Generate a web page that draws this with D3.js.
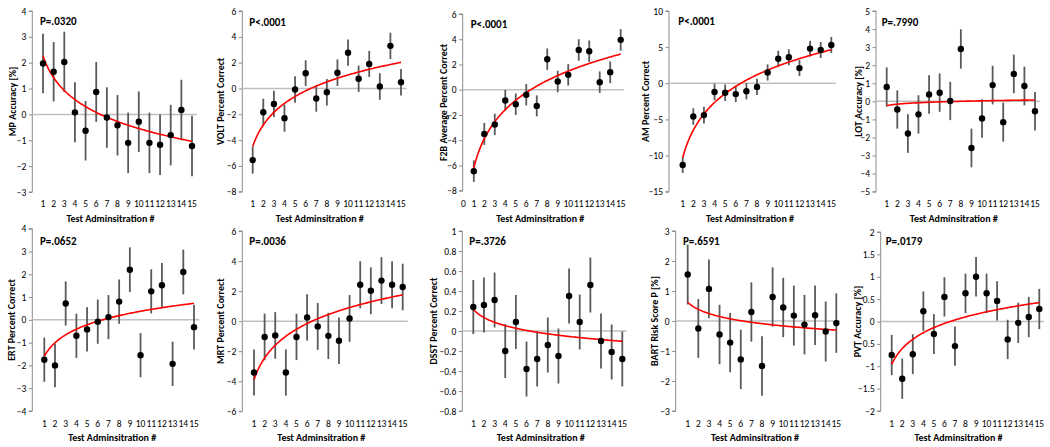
<!DOCTYPE html>
<html>
<head>
<meta charset="utf-8">
<script src="https://cdn.jsdelivr.net/npm/d3@7"></script>
<style>
  html, body { margin: 0; padding: 0; background: #fff; }
  svg { display: block; }
  text { font-family: Carlito, "Liberation Sans", Arial, sans-serif; fill: #000; }
</style>
</head>
<body>
<svg id="chart" width="1050" height="447"></svg>
<script>
// ---------------- DATA ----------------
const administrations = [1,2,3,4,5,6,7,8,9,10,11,12,13,14,15];
const xTitle = "Test Adminsitration #";

const mpMean   = [1.97, 1.65, 2.03, 0.08, -0.63, 0.87, -0.12, -0.42, -1.10, -0.28, -1.10, -1.17, -0.80, 0.17, -1.22];
const mpErr    = [1.15, 1.15, 1.17, 1.16, 1.15, 1.16, 1.17, 1.17, 1.17, 1.17, 1.17, 1.17, 1.17, 1.17, 1.17];
const voltMean = [-5.55, -1.85, -1.20, -2.30, -0.08, 1.18, -0.78, -0.30, 1.22, 2.77, 0.75, 1.90, 0.15, 3.30, 0.48];
const voltErr  = [1.05, 1.05, 1.02, 1.05, 1.02, 1.00, 1.02, 1.03, 1.03, 1.02, 1.02, 1.01, 1.03, 1.02, 1.03];
const f2bMean  = [-6.45, -3.50, -2.75, -0.85, -1.15, -0.40, -1.28, 2.42, 0.65, 1.18, 3.15, 3.05, 0.60, 1.38, 3.95];
const f2bErr   = [0.85, 0.87, 0.85, 0.83, 0.85, 0.85, 0.83, 0.85, 0.85, 0.85, 0.85, 0.85, 0.85, 0.86, 0.85];
const amMean   = [-11.3, -4.6, -4.4, -1.2, -1.3, -1.5, -1.1, -0.5, 1.5, 3.4, 3.6, 2.1, 4.8, 4.6, 5.3];
const amErr    = [1.1, 1.15, 1.15, 1.15, 1.15, 1.1, 1.12, 1.12, 1.12, 1.1, 1.1, 1.1, 1.1, 1.1, 1.1];
const lotMean  = [0.80, -0.45, -1.78, -0.72, 0.38, 0.48, 0.02, 2.90, -2.58, -0.95, 0.90, -1.15, 1.52, 0.85, -0.55];
const lotErr   = [1.08, 1.06, 1.07, 1.06, 1.06, 1.06, 1.06, 1.09, 1.07, 1.06, 1.07, 1.08, 1.07, 1.07, 1.07];
const ertMean  = [-1.75, -2.00, 0.72, -0.70, -0.42, -0.08, 0.12, 0.80, 2.20, -1.55, 1.25, 1.52, -1.93, 2.10, -0.32];
const ertErr   = [0.97, 0.96, 0.97, 0.97, 0.97, 0.97, 0.97, 0.97, 0.98, 0.97, 0.97, 0.97, 0.97, 0.98, 0.98];
const mrtMean  = [-3.42, -1.05, -0.95, -3.42, -1.05, 0.25, -0.35, -0.98, -1.30, 0.18, 2.42, 2.02, 2.70, 2.42, 2.27];
const mrtErr   = [1.53, 1.55, 1.55, 1.54, 1.54, 1.54, 1.56, 1.54, 1.55, 1.56, 1.57, 1.56, 1.56, 1.56, 1.55];
const dsstMean = [0.24, 0.26, 0.31, -0.20, 0.09, -0.38, -0.28, -0.14, -0.25, 0.35, 0.09, 0.46, -0.10, -0.21, -0.28];
const dsstErr  = [0.27, 0.275, 0.275, 0.27, 0.27, 0.275, 0.275, 0.275, 0.275, 0.275, 0.275, 0.275, 0.275, 0.275, 0.275];
const bartMean = [1.55, -0.25, 1.07, -0.45, -0.72, -1.28, 0.30, -1.50, 0.80, 0.45, 0.18, -0.12, 0.19, -0.35, -0.07];
const bartErr  = [1.00, 0.98, 0.98, 0.99, 0.99, 0.99, 0.99, 0.99, 0.99, 0.99, 1.00, 0.99, 0.99, 1.00, 0.99];
const pvtMean  = [-0.75, -1.28, -0.73, 0.23, -0.28, 0.55, -0.55, 0.63, 1.00, 0.63, 0.46, -0.40, -0.03, 0.10, 0.28];
const pvtErr   = [0.45, 0.45, 0.445, 0.44, 0.445, 0.44, 0.44, 0.44, 0.44, 0.44, 0.44, 0.44, 0.45, 0.45, 0.45];

const yLabels  = ["MP Accuracy [%]", "VOLT Percent Correct", "F2B Average Percent Correct", "AM Percent Correct", "LOT Accuracy [%]",
                  "ERT Percent Correct", "MRT Percent Correct", "DSST Percent Correct", "BART Risk Score P [%]", "PVT Accuracy [%]"];
const pLabels  = ["P=.0320", "P<.0001", "P<.0001", "P<.0001", "P=.7990", "P=.0652", "P=.0036", "P=.3726", "P=.6591", "P=.0179"];
const yTicks   = [
  [-3,-2,-1,0,1,2,3,4],
  [-8,-6,-4,-2,0,2,4,6],
  [-8,-6,-4,-2,0,2,4,6],
  [-15,-10,-5,0,5,10],
  [-5,-4,-3,-2,-1,0,1,2,3,4,5],
  [-4,-3,-2,-1,0,1,2,3,4],
  [-6,-4,-2,0,2,4,6],
  [-0.8,-0.6,-0.4,-0.2,0,0.2,0.4,0.6,0.8,1],
  [-3,-2,-1,0,1,2,3],
  [-2,-1.5,-1,-0.5,0,0.5,1,1.5,2]
];
const xTicksF2B = [0,1,2,3,4,5,6,7,8,9,10,11,12,13,14,15];
const means = [mpMean, voltMean, f2bMean, amMean, lotMean, ertMean, mrtMean, dsstMean, bartMean, pvtMean];
const errs  = [mpErr, voltErr, f2bErr, amErr, lotErr, ertErr, mrtErr, dsstErr, bartErr, pvtErr];

// ---------------- LAYOUT ----------------
const layout = [
  {ax:32.3,  yT:11,    yB:192,   x1:43,    x15:192,   ze:197,   lx:12,    px:40,    py:21},
  {ax:242.3, yT:11,    yB:191.7, x1:252.7, x15:401,   ze:406.5, lx:220,   px:249.3, py:22},
  {ax:462.7, yT:14,    yB:190.7, x1:473.8, x15:620.7, ze:624,   lx:443.3, px:470.7, py:24},
  {ax:669,   yT:11,    yB:191.7, x1:682.7, x15:831.3, ze:835.7, lx:645,   px:678.3, py:21},
  {ax:876,   yT:11,    yB:191.7, x1:886.7, x15:1035,  ze:1040,  lx:858.5, px:881.7, py:22},
  {ax:32.3,  yT:228.7, yB:411,   x1:44.3,  x15:194,   ze:199.3, lx:11.7,  px:40,    py:241},
  {ax:242.3, yT:231,   yB:411.3, x1:254,   x15:402.7, ze:407.7, lx:220,   px:249.3, py:241},
  {ax:462.3, yT:231,   yB:411,   x1:473.3, x15:622.3, ze:626.7, lx:433.3, px:469.3, py:241},
  {ax:675.7, yT:231,   yB:411,   x1:687.7, x15:836.3, ze:840,   lx:654,   px:683,   py:241},
  {ax:880.7, yT:232,   yB:411,   x1:891.7, x15:1039.3,ze:1044,  lx:857.5, px:885.7, py:241}
];

const svg = d3.select("#chart");

function logFit(xs, ys) {
  const lx = xs.map(Math.log);
  const mx = d3.mean(lx), my = d3.mean(ys);
  let sxy = 0, sxx = 0;
  lx.forEach((v, i) => { sxy += (v - mx) * (ys[i] - my); sxx += (v - mx) * (v - mx); });
  const b = sxy / sxx, a = my - b * mx;
  return x => a + b * Math.log(x);
}

layout.forEach((L, i) => {
  const g = svg.append("g");
  const ticks = yTicks[i];
  const y = d3.scaleLinear().domain(d3.extent(ticks)).range([L.yB, L.yT]);
  const x = d3.scaleLinear().domain([1, 15]).range([L.x1, L.x15]);
  const mean = means[i], err = errs[i];
  const data = administrations.map((a, k) => ({a, m: mean[k], e: err[k]}));

  // Y axis
  const yAxis = d3.axisLeft(y).tickValues(ticks).tickSize(3.5).tickPadding(2.5)
    .tickFormat(d => (Math.abs(d) < 1e-9 ? "0" : d3.format("~g")(d)));
  const ag = g.append("g").attr("transform", `translate(${L.ax},0)`).call(yAxis);
  ag.select(".domain").attr("stroke", "#8c8c8c").attr("stroke-width", 1).attr("d", `M-3.5,${L.yB}H0V${L.yT}H-3.5`);
  ag.selectAll(".tick line").attr("stroke", "#8c8c8c");
  ag.selectAll(".tick text").style("font-size", "9.5px").style("font-family", "Carlito, 'Liberation Sans', Arial, sans-serif");

  // zero line
  g.append("line").attr("x1", L.ax).attr("x2", L.ze).attr("y1", y(0)).attr("y2", y(0))
    .attr("stroke", "#bfbfbf").attr("stroke-width", 1.5);

  // X tick labels
  const xLabelY = (i < 5 ? 203.5 : 424) + 3.3;
  const xt = i === 2 ? xTicksF2B : administrations;
  g.append("g").selectAll("text").data(xt).join("text")
    .attr("x", d => x(d)).attr("y", xLabelY)
    .attr("text-anchor", "middle").style("font-size", "9.5px").text(d => d);

  // X title
  g.append("text").attr("x", (L.x1 + L.x15) / 2 - 7).attr("y", i < 5 ? 221.5 : 440.5)
    .attr("text-anchor", "middle").style("font-size", "10px").style("font-weight", "bold")
    .text(xTitle);

  // Y label
  const cy = (L.yT + L.yB) / 2;
  g.append("text").attr("transform", `translate(${L.lx + 3.7},${cy}) rotate(-90)`)
    .attr("text-anchor", "middle").style("font-size", "10px").style("font-weight", "bold")
    .text(yLabels[i]);

  // error bars
  g.append("g").selectAll("line").data(data).join("line")
    .attr("x1", d => x(d.a)).attr("x2", d => x(d.a))
    .attr("y1", d => y(d.m - d.e)).attr("y2", d => y(d.m + d.e))
    .attr("stroke", "#5a5a5a").attr("stroke-width", 1.8);

  // trend (logarithmic fit)
  const f = logFit(administrations, mean);
  const xs = d3.range(1, 15.001, 0.1);
  g.append("path").datum(xs)
    .attr("d", d3.line().x(d => x(d)).y(d => y(f(d))))
    .attr("fill", "none").attr("stroke", "#ff0000").attr("stroke-width", 1.6);

  // points
  g.append("g").selectAll("circle").data(data).join("circle")
    .attr("cx", d => x(d.a)).attr("cy", d => y(d.m)).attr("r", 3.2).attr("fill", "#000");

  // P label
  g.append("text").attr("x", L.px).attr("y", L.py + 4)
    .style("font-size", "11px").style("font-weight", "bold").text(pLabels[i]);
});
</script>
</body>
</html>
